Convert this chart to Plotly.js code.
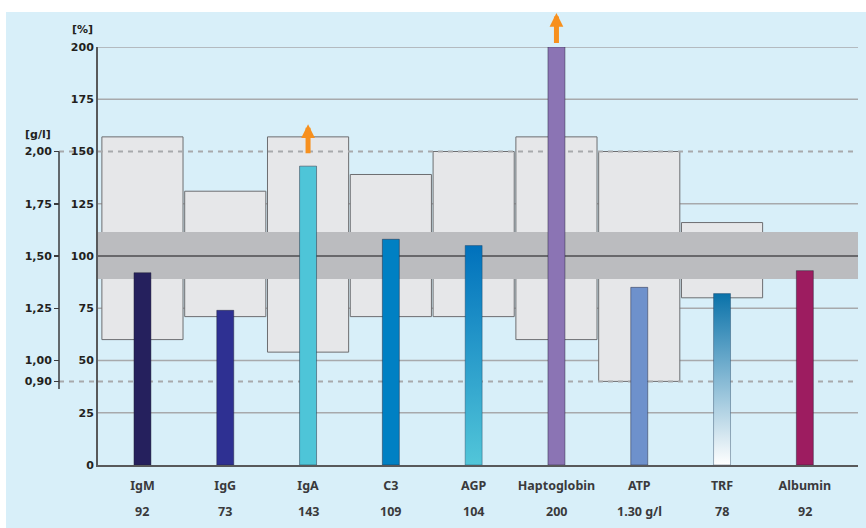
<!DOCTYPE html>
<html><head><meta charset="utf-8">
<script src="https://cdn.plot.ly/plotly-3.0.1.min.js"></script>
<style>html,body{margin:0;padding:0;background:#fff;}#chart{width:866px;height:528px;}</style>
</head><body><div id="chart"></div>
<script>
// ---- data ----
const categories = ['IgM','IgG','IgA','C3','AGP','Haptoglobin','ATP','TRF','Albumin'];
const valueLabels = ['92','73','143','109','104','200','1.30 g/l','78','92'];
const barValues = [92, 74, 143, 108, 105, 200, 85, 82, 93];
const refLow  = [60, 71, 54, 71, 71, 60, 40, 80, null];
const refHigh = [157, 131, 157, 139, 150, 157, 150, 116, null];
const normalBand = [89, 111.5];
const normalLine = [100];
const pctTicks = [0, 25, 50, 75, 100, 125, 150, 175, 200];
const pctGrid = [25, 50, 75, 125, 175, 200];
const dashedLevels = [40, 150];
const glTicks = [0.90, 1.00, 1.25, 1.50, 1.75, 2.00];
const glTickText = ['0,90', '1,00', '1,25', '1,50', '1,75', '2,00'];
const exceeded = ['IgA', 'Haptoglobin'];

// ---- styles ----
const barColors = ['#25205d','#2e3092','#4ec5d8','#0080c3',null,'#8b74b4','#6e91cc',null,'#9d1c60'];
const gradientBars = {
  'AGP': [[0,'#52c6d9'],[1,'#0071bc']],
  'TRF': [[0,'#ffffff'],[1,'#0a72a9']]
};
const arrowOffsets = {'IgA': {yshift: 42, ay: 31}, 'Haptoglobin': {yshift: 34, ay: 32}};
const BAR_W = 0.205, BOX_W = 0.98;
const XR = [-0.537, 8.642];
const XDOM0 = 39/799;
const tickFont = {family: 'DejaVu Sans', size: 11, color: '#231f20', weight: 700};
const catFont = {family: 'Noto Sans', size: 12.5, color: '#3a3a3c', weight: 700};

const idx = categories.map((c, i) => i);
const traces = [];
const solidIdx = idx.filter(i => !gradientBars[categories[i]]);
traces.push({
  type: 'bar', x: solidIdx, y: solidIdx.map(i => barValues[i]), width: BAR_W,
  marker: {color: solidIdx.map(i => barColors[i]), line: {color: 'rgba(30,30,50,0.45)', width: 1}},
  hoverinfo: 'skip', showlegend: false
});
idx.filter(i => gradientBars[categories[i]]).forEach(i => {
  const v = barValues[i];
  traces.push({
    type: 'scatter', mode: 'lines',
    x: [i - BAR_W/2, i + BAR_W/2, i + BAR_W/2, i - BAR_W/2, i - BAR_W/2],
    y: [0, 0, v, v, 0],
    fill: 'toself',
    fillgradient: {type: 'vertical', colorscale: gradientBars[categories[i]], start: 0, stop: v},
    line: {color: 'rgba(30,60,90,0.4)', width: 1},
    hoverinfo: 'skip', showlegend: false
  });
});
// dummy trace for secondary g/l axis
traces.push({type: 'scatter', x: [0], y: [1.5], yaxis: 'y2', mode: 'markers',
  marker: {opacity: 0}, hoverinfo: 'skip', showlegend: false});

const shapes = [];
// panel background
shapes.push({type: 'rect', xref: 'paper', yref: 'paper', x0: (6-59)/799, x1: (870-59)/799,
  y0: (465-532)/418, y1: (465-12)/418, fillcolor: '#d8eff9', line: {width: 0}, layer: 'below'});
// dashed segments left of the % axis
dashedLevels.forEach(l => shapes.push({type: 'line', xref: 'paper', yref: 'y', x0: 0, x1: XDOM0,
  y0: l, y1: l, line: {color: '#a7a9ac', width: 2, dash: '5px,5px'}, layer: 'below'}));
// g/l axis line
shapes.push({type: 'line', xref: 'paper', yref: 'y2', x0: 0, x1: 0, y0: 0.864, y1: glTicks[glTicks.length-1],
  line: {color: '#3a3a3c', width: 1.5}, layer: 'below'});
// solid gridlines
pctGrid.forEach(g => shapes.push({type: 'line', xref: 'x', yref: 'y', x0: XR[0], x1: XR[1], y0: g, y1: g,
  line: {color: '#a7a9ac', width: 1.3}, layer: 'below'}));
// reference range boxes
idx.forEach(i => {
  if (refLow[i] === null) return;
  shapes.push({type: 'rect', xref: 'x', yref: 'y', x0: i - BOX_W/2, x1: i + BOX_W/2,
    y0: refLow[i], y1: refHigh[i], fillcolor: '#e6e7e9', line: {color: '#6d6e71', width: 1}, layer: 'below'});
});
// normal band
shapes.push({type: 'rect', xref: 'x', yref: 'y', x0: XR[0], x1: XR[1], y0: normalBand[0], y1: normalBand[1],
  fillcolor: '#bbbcbf', line: {width: 0}, layer: 'below'});
shapes.push({type: 'line', xref: 'x', yref: 'y', x0: XR[0], x1: XR[1], y0: normalLine[0], y1: normalLine[0],
  line: {color: '#4d4d4f', width: 1.5}, layer: 'below'});
// dashed lines in plot
dashedLevels.forEach(l => shapes.push({type: 'line', xref: 'x', yref: 'y', x0: XR[0], x1: XR[1],
  y0: l, y1: l, line: {color: '#a7a9ac', width: 2, dash: '5px,5px'}, layer: 'below'}));

const annotations = [];
annotations.push({text: '[%]', xref: 'paper', yref: 'paper', x: (82-59)/799, y: (465-30)/418,
  showarrow: false, font: tickFont, xanchor: 'center', yanchor: 'middle'});
annotations.push({text: '[g/l]', xref: 'paper', yref: 'paper', x: (38-59)/799, y: (465-134)/418,
  showarrow: false, font: tickFont, xanchor: 'center', yanchor: 'middle'});
idx.forEach(i => annotations.push({text: valueLabels[i], xref: 'x', yref: 'paper', x: i, y: (465-511)/418,
  showarrow: false, font: catFont, xanchor: 'center', yanchor: 'middle'}));
exceeded.forEach(c => {
  const i = categories.indexOf(c);
  const o = arrowOffsets[c];
  annotations.push({text: ' ', xref: 'x', yref: 'y', x: i, y: barValues[i], yshift: o.yshift,
    showarrow: true, ax: 0, ay: o.ay, arrowcolor: '#f7901e', arrowwidth: 5, arrowhead: 2, arrowsize: 0.55,
    font: {size: 1}});
});

const layout = {
  width: 866, height: 528,
  margin: {l: 59, r: 8, t: 47, b: 63},
  paper_bgcolor: '#ffffff', plot_bgcolor: 'rgba(0,0,0,0)',
  showlegend: false,
  xaxis: {type: 'linear', range: XR, domain: [XDOM0, 1], tickvals: idx,
    ticktext: categories, tickfont: catFont, ticks: '', ticklabelstandoff: 8,
    showgrid: false, zeroline: false, showline: true, linecolor: '#58595b', linewidth: 2, fixedrange: true},
  yaxis: {range: [0, 200], tickvals: pctTicks, ticktext: pctTicks.map(String), tickfont: tickFont,
    ticks: '', showgrid: false, zeroline: false, showline: true, linecolor: '#58595b', linewidth: 2,
    anchor: 'x', fixedrange: true},
  yaxis2: {range: [0.5, 2.5], overlaying: 'y', anchor: 'free', position: 0, side: 'left',
    tickvals: glTicks, ticktext: glTickText, tickfont: tickFont, ticks: 'outside', ticklen: 5,
    tickwidth: 1.5, tickcolor: '#3a3a3c', showgrid: false, zeroline: false, showline: false, fixedrange: true},
  shapes: shapes,
  annotations: annotations,
  bargap: 0
};
Plotly.newPlot('chart', traces, layout, {displayModeBar: false, staticPlot: true});
</script></body></html>
